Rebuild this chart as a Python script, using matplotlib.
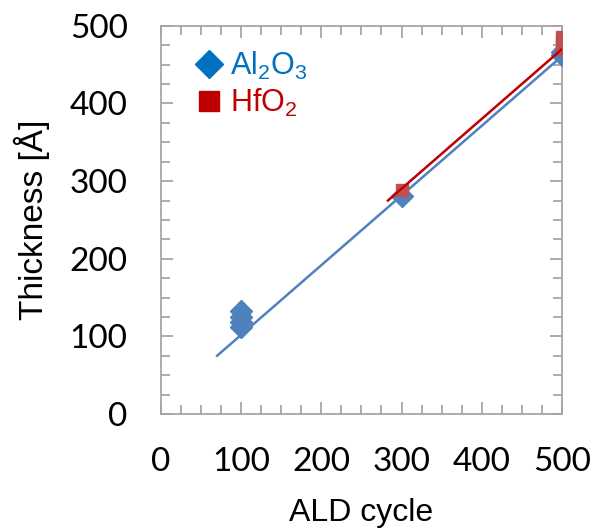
import matplotlib
matplotlib.use("Agg")
import matplotlib.pyplot as plt
from matplotlib.lines import Line2D
from matplotlib.ticker import MultipleLocator

matplotlib.rcParams.update({
	"font.family": "Liberation Sans",
	"mathtext.default": "regular",
})

# data
al_cycles = [100, 100, 100, 100, 300, 500, 500]
al_thick = [112, 118, 125, 133, 281, 462, 466]
hf_cycles = [300, 500, 500, 500]
hf_thick = [289, 470, 478, 486]

# trendlines (end points as drawn)
al_fit_x = [70, 500]
al_fit_y = [75, 461]
hf_fit_x = [283, 500]
hf_fit_y = [275, 470]

x_ticks = [0, 100, 200, 300, 400, 500]
y_ticks = [0, 100, 200, 300, 400, 500]

blue_pt = "#4F81BD"
red_pt = "#C0504D"
blue_txt = "#0070C0"
red_txt = "#C00000"
grey = "#A6A6A6"

fig = plt.figure(figsize=(5.94, 5.28), dpi=100)
ax = fig.add_axes([0.271, 0.216, 0.675, 0.735])

ax.plot(al_fit_x, al_fit_y, color=blue_pt, lw=1.8, zorder=2)

ax.plot(al_cycles, al_thick, linestyle="none", marker="D", markersize=11,
	color=blue_pt, markeredgecolor=blue_pt, zorder=3)
ax.plot(hf_cycles, hf_thick, linestyle="none", marker="s", markersize=9,
	color=red_pt, markeredgecolor=red_pt, zorder=4)
ax.plot(hf_fit_x, hf_fit_y, color=red_txt, lw=1.8, zorder=5)

ax.set_xlim(0, 500)
ax.set_ylim(0, 500)
ax.set_xticks(x_ticks)
ax.set_yticks(y_ticks)
ax.xaxis.set_minor_locator(MultipleLocator(25))
ax.yaxis.set_minor_locator(MultipleLocator(25))

for s in ax.spines.values():
	s.set_color(grey)
	s.set_linewidth(1.3)

ax.tick_params(which="both", direction="in", top=True, right=True, color=grey, width=1.3)
ax.tick_params(which="major", length=8.5, pad=24, labelsize=24)
ax.tick_params(which="minor", length=6.5)
for lab in ax.get_xticklabels() + ax.get_yticklabels():
	lab.set_family("Lato")

ax.set_xlabel("ALD cycle", fontsize=23, labelpad=15)
ax.set_ylabel("Thickness [Å]", fontsize=24, labelpad=14)

handles = [
	Line2D([], [], linestyle="none", marker="D", markersize=14, color=blue_txt),
	Line2D([], [], linestyle="none", marker="s", markersize=15, color=red_txt),
]
ax.legend(handles, ["Al$_2$O$_3$", "HfO$_2$"], loc="upper left", frameon=False,
	fontsize=22, labelcolor=[blue_txt, red_txt], handlelength=0.8,
	handletextpad=0.3, labelspacing=0.15, borderaxespad=0.3,
	bbox_to_anchor=(0.035, 0.993))

plt.savefig("out.png", dpi=100)
plt.close()
